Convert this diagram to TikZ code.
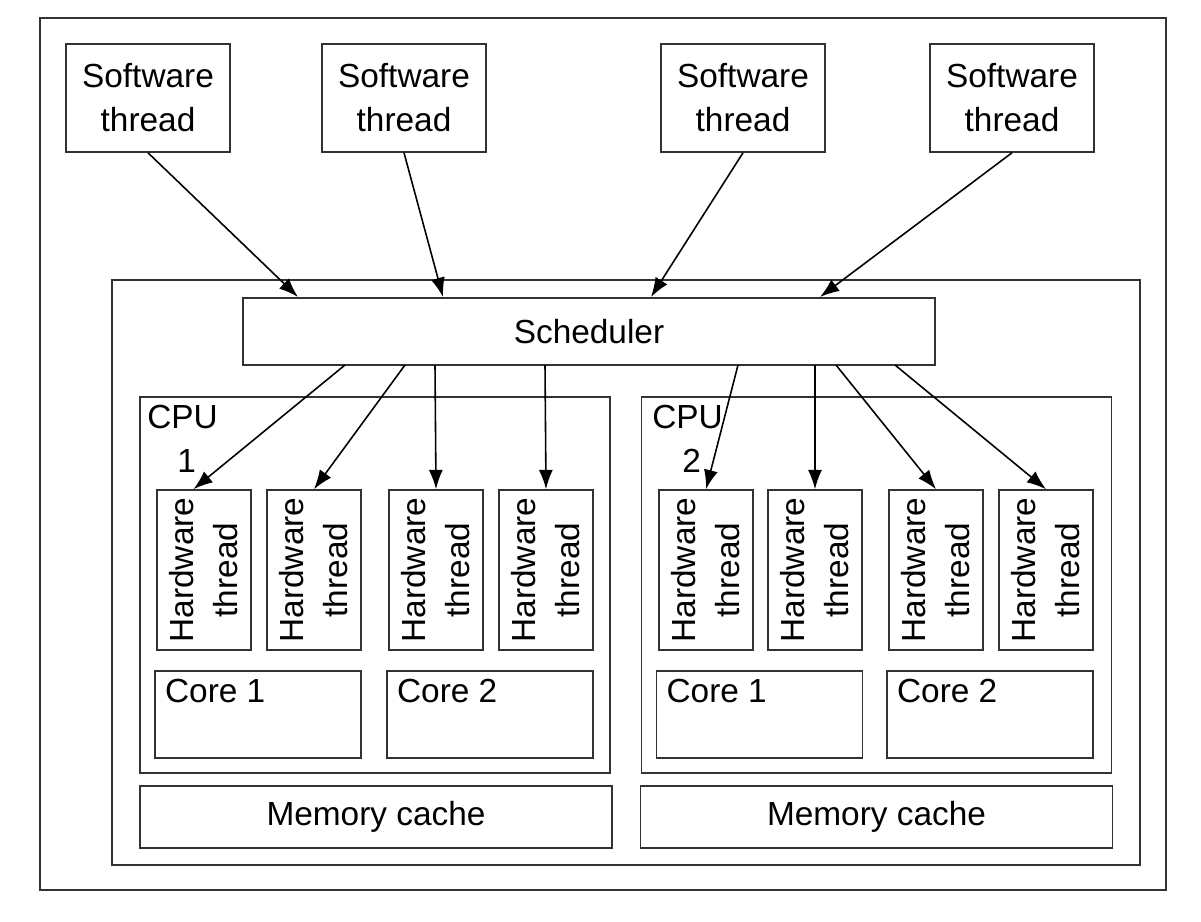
\documentclass[tikz,border=0pt]{standalone}
\usepackage{fontspec}
\setmainfont{Liberation Sans}
\usetikzlibrary{arrows.meta}
\begin{document}
\begin{tikzpicture}[x=0.02cm,y=-0.02cm]
\tikzstyle{blk}=[rectangle, draw=black!80, line width=0.9pt, inner sep=2pt, align=center, font=\fontsize{19}{25}\selectfont]
\tikzstyle{lbl}=[anchor=north west, inner sep=0pt, align=left, font=\fontsize{19}{25}\selectfont]
\tikzstyle{arr}=[line width=0.9pt, -{Latex[length=11pt,width=8pt]}]
\useasboundingbox (0,0) rectangle (1201,922);

% Frames
\node[blk, minimum width=22.52cm, minimum height=17.44cm] (frame) at (603,454) {};
\node[blk, minimum width=20.56cm, minimum height=11.7cm] (sys) at (626,572.5) {};

% Software threads
\node[blk, minimum width=3.28cm, minimum height=2.16cm] (sw1) at (148,98) {Software\\thread};
\node[blk, minimum width=3.28cm, minimum height=2.16cm] (sw2) at (404,98) {Software\\thread};
\node[blk, minimum width=3.28cm, minimum height=2.16cm] (sw3) at (743,98) {Software\\thread};
\node[blk, minimum width=3.28cm, minimum height=2.16cm] (sw4) at (1012,98) {Software\\thread};

% Scheduler
\node[blk, minimum width=13.84cm, minimum height=1.34cm] (sched) at (589,331.5) {Scheduler};
\coordinate (in1) at (298,297);
\coordinate (in2) at (443,297);
\coordinate (in3) at (651,297);
\coordinate (in4) at (820,297);
\coordinate (out1) at (345,365);
\coordinate (out2) at (405,365);
\coordinate (out3) at (435,365);
\coordinate (out4) at (545,365);
\coordinate (out5) at (738,365);
\coordinate (out6) at (815,365);
\coordinate (out7) at (836,365);
\coordinate (out8) at (895,365);

% CPUs
\node[blk, minimum width=9.4cm, minimum height=7.52cm] (cpu1) at (375,585) {};
\node[blk, minimum width=9.4cm, minimum height=7.52cm] (cpu2) at (876.5,585) {};
\node[lbl] (cpu1l) at (147,405) {CPU\\\hspace{0.9em}1};
\node[lbl] (cpu2l) at (652,405) {CPU\\\hspace{0.9em}2};

% Hardware threads
\foreach \x [count=\i] in {204,314,436,546,706,815,936,1046}
  \node[blk, rotate=90, minimum width=3.2cm, minimum height=1.88cm] (hw\i) at (\x,570) {Hardware\\thread};

% Cores
\node[blk, minimum width=4.12cm, minimum height=1.74cm] (c11) at (258,714.5) {};
\node[blk, minimum width=4.12cm, minimum height=1.74cm] (c12) at (490,714.5) {};
\node[blk, minimum width=4.12cm, minimum height=1.74cm] (c21) at (759.5,714.5) {};
\node[blk, minimum width=4.12cm, minimum height=1.74cm] (c22) at (990,714.5) {};
\node[lbl] at ([xshift=6pt,yshift=-5pt]c11.north west) {Core 1};
\node[lbl] at ([xshift=6pt,yshift=-5pt]c12.north west) {Core 2};
\node[lbl] at ([xshift=6pt,yshift=-5pt]c21.north west) {Core 1};
\node[lbl] at ([xshift=6pt,yshift=-5pt]c22.north west) {Core 2};

% Memory caches
\node[blk, minimum width=9.44cm, minimum height=1.24cm] (mem1) at (376,817) {Memory cache};
\node[blk, minimum width=9.44cm, minimum height=1.24cm] (mem2) at (876.5,817) {Memory cache};

% Connect nodes
\draw[arr] (sw1.south) -- (in1);
\draw[arr] (sw2.south) -- (in2);
\draw[arr] (sw3.south) -- (in3);
\draw[arr] (sw4.south) -- (in4);

\draw[arr] (out1) -- ([xshift=-6pt]hw1.east);
\draw[arr] (out2) -- (hw2.east);
\draw[arr] (out3) -- (hw3.east);
\draw[arr] (out4) -- (hw4.east);
\draw[arr] (out5) -- (hw5.east);
\draw[arr] (out6) -- (hw6.east);
\draw[arr] (out7) -- (hw7.east);
\draw[arr] (out8) -- (hw8.east);
\end{tikzpicture}
\end{document}
